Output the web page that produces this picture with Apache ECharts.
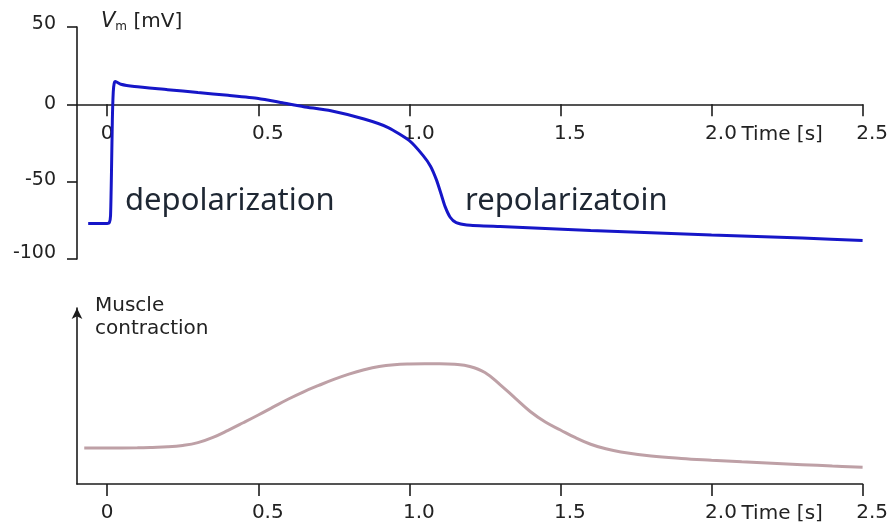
<!DOCTYPE html>
<html>
<head>
<meta charset="utf-8">
<script src="https://cdn.jsdelivr.net/npm/echarts@6/dist/echarts.min.js"></script>
<style>
html,body{margin:0;padding:0;background:#fff;}
#main{width:891px;height:528px;}
</style>
</head>
<body>
<div id="main"></div>
<script>
// ---- data ----
const timeTicks = [0, 0.5, 1.0, 1.5, 2.0, 2.5];
const timeTickLabels = ['0', '0.5', '1.0', '1.5', '2.0', '2.5'];
const vmTicks = [-100, -50, 0, 50];
const timeAxisName = 'Time [s]';
const vmAxisName = ['V', 'm', ' [mV]'];
const muscleAxisName = 'Muscle\ncontraction';
const annotations = ['depolarization', 'repolarizatoin'];

// membrane potential (s, mV)
const vmTime   = [-0.063, 0.0, 0.007, 0.011, 0.014, 0.017, 0.02, 0.023, 0.027, 0.045, 0.09, 0.2, 0.3, 0.4, 0.5, 0.58, 0.65, 0.74, 0.85, 0.93, 1.0, 1.045, 1.07, 1.09, 1.105, 1.118, 1.135, 1.155, 1.19, 1.3, 1.6, 2.0, 2.3, 2.5];
const vmValues = [-77, -77, -76.5, -72, -45, -10, 8, 13.5, 14.8, 13, 11.5, 9.5, 7.6, 5.8, 3.8, 1.0, -1.5, -4.2, -9.5, -15, -23.5, -33, -40, -49, -58, -66, -73, -76.5, -78, -79, -81.5, -84.5, -86.5, -88];

// muscle contraction (s, arbitrary units)
const muscleTime   = [-0.076, 0.0, 0.1, 0.15, 0.2, 0.25, 0.3, 0.35, 0.4, 0.45, 0.5, 0.55, 0.6, 0.65, 0.7, 0.75, 0.8, 0.85, 0.9, 0.95, 1.0, 1.05, 1.1, 1.15, 1.2, 1.25, 1.3, 1.35, 1.4, 1.45, 1.5, 1.55, 1.6, 1.65, 1.7, 1.8, 1.9, 2.0, 2.1, 2.2, 2.3, 2.4, 2.5];
const muscleValues = [20.5, 20.5, 20.6, 20.8, 21.1, 21.9, 23.5, 26.5, 30.5, 34.8, 39.2, 43.8, 48.3, 52.4, 56.0, 59.4, 62.4, 64.9, 66.8, 67.8, 68.2, 68.3, 68.3, 68.0, 66.8, 63.4, 56.5, 48.8, 41.2, 35.2, 30.7, 26.3, 22.6, 20.0, 18.2, 15.9, 14.5, 13.5, 12.6, 11.8, 11.0, 10.2, 9.5];

// ---- chart ----
const AXC = '#1c1c1c';
const TXC = '#222222';
const FONT = 'DejaVu Sans';
const chart = echarts.init(document.getElementById('main'), null, {renderer: 'canvas'});

function timeLabel(v) {
  const i = timeTicks.indexOf(v);
  const s = i >= 0 ? timeTickLabels[i] : String(v);
  return s.length > 1 ? '{d|' + s + '}' : '{z|' + s + '}';
}
const timeLabelRich = {
  z: {fontFamily: FONT, fontSize: 20, color: TXC},
  d: {fontFamily: FONT, fontSize: 20, color: TXC, padding: [0, 0, 0, 19]}
};
function vmLabel(v) {
  if (v === 50) return '{a|50}';
  if (v === -100) return '{b|-100}';
  if (v === -50) return '{c|-50}';
  return '{z|' + v + '}';
}
const vmRich = {
  z: {fontFamily: FONT, fontSize: 19, color: TXC},
  a: {fontFamily: FONT, fontSize: 19, color: TXC, padding: [0, 0, 6, 0]},
  b: {fontFamily: FONT, fontSize: 19, color: TXC, padding: [0, 0, 12, 0]},
  c: {fontFamily: FONT, fontSize: 19, color: TXC, padding: [0, 0, 3, 0]}
};

function timeAxis(gridIndex) {
  return {
    type: 'value', gridIndex: gridIndex, min: -0.1, max: 2.5, position: 'bottom', offset: 0,
    splitLine: {show: false},
    axisLine: {show: true, onZero: false, lineStyle: {color: AXC, width: 1.6}},
    axisTick: {show: true, length: 12, customValues: timeTicks, lineStyle: {color: AXC, width: 1.6}},
    axisLabel: {show: true, customValues: timeTicks, margin: 19, formatter: timeLabel, rich: timeLabelRich}
  };
}

const option = {
  animation: false,
  backgroundColor: '#ffffff',
  grid: [
    {left: 77, right: 28, top: 27, height: 232},
    {left: 77, right: 28, top: 308, height: 176}
  ],
  xAxis: [timeAxis(0), timeAxis(1)],
  yAxis: [
    {
      type: 'value', gridIndex: 0, min: -100, max: 50, interval: 50,
      splitLine: {show: false},
      axisLine: {show: true, onZero: false, lineStyle: {color: AXC, width: 1.6}},
      axisTick: {show: true, length: 10, lineStyle: {color: AXC, width: 1.6}},
      axisLabel: {show: true, margin: 21, formatter: vmLabel, rich: vmRich},
      name: '{v|' + vmAxisName[0] + '}{s|' + vmAxisName[1] + '}{u|' + vmAxisName[2] + '}',
      nameLocation: 'end', nameGap: 5,
      nameTextStyle: {
        align: 'left', verticalAlign: 'middle', padding: [0, 0, 0, 24],
        rich: {
          v: {fontFamily: FONT, fontSize: 21, fontStyle: 'italic', color: TXC},
          s: {fontFamily: FONT, fontSize: 12, color: TXC, padding: [10, 0, 0, 0]},
          u: {fontFamily: FONT, fontSize: 20, color: TXC}
        }
      }
    },
    {
      type: 'value', gridIndex: 1, min: 0, max: 100,
      splitLine: {show: false},
      axisLine: {show: true, onZero: false, symbol: ['none', 'arrow'], symbolSize: [8, 11], lineStyle: {color: AXC, width: 1.6}},
      axisTick: {show: false},
      axisLabel: {show: false},
      name: muscleAxisName, nameLocation: 'end', nameGap: 14,
      nameTextStyle: {fontFamily: FONT, fontSize: 20, lineHeight: 23, color: TXC, align: 'left', verticalAlign: 'top', padding: [0, 0, 0, 18]}
    }
  ],
  series: [
    {
      type: 'line', xAxisIndex: 0, yAxisIndex: 0, symbol: 'none', smooth: 0.2,
      lineStyle: {color: '#1616c8', width: 3},
      data: vmTime.map((t, i) => [t, vmValues[i]])
    },
    {
      type: 'line', xAxisIndex: 1, yAxisIndex: 1, symbol: 'none', smooth: 0.4,
      lineStyle: {color: '#bea0a6', width: 3},
      data: muscleTime.map((t, i) => [t, muscleValues[i]])
    }
  ]
};
chart.setOption(option);

// move the top time axis to V = 0 using the y scale
const yZero = chart.convertToPixel({yAxisIndex: 0}, 0);
const yBottom = chart.convertToPixel({yAxisIndex: 0}, -100);
chart.setOption({xAxis: [{offset: yZero - yBottom}, {}]});

// annotation texts placed through the axes' scales
const p0 = chart.convertToPixel({xAxisIndex: 0, yAxisIndex: 0}, [2.0, 0]);
const p1 = chart.convertToPixel({xAxisIndex: 1, yAxisIndex: 1}, [2.0, 0]);
const pd = chart.convertToPixel({xAxisIndex: 0, yAxisIndex: 0}, [0.059, -62.4]);
const pr = chart.convertToPixel({xAxisIndex: 0, yAxisIndex: 0}, [1.184, -62.4]);
const annStyle = {fontFamily: 'Noto Sans', fontSize: 31, fill: '#1e2733'};
const nameStyle = {fontFamily: FONT, fontSize: 20, fill: TXC};
chart.setOption({
  graphic: [
    {type: 'text', x: p0[0] + 30, y: p0[1] + 30, style: Object.assign({text: timeAxisName, verticalAlign: 'middle', align: 'left'}, nameStyle)},
    {type: 'text', x: p1[0] + 30, y: p1[1] + 30, style: Object.assign({text: timeAxisName, verticalAlign: 'middle', align: 'left'}, nameStyle)},
    {type: 'text', x: pd[0], y: pd[1], style: Object.assign({text: annotations[0], verticalAlign: 'middle', align: 'left'}, annStyle)},
    {type: 'text', x: pr[0], y: pr[1], style: Object.assign({text: annotations[1], verticalAlign: 'middle', align: 'left'}, annStyle)}
  ]
});
</script>
</body>
</html>
